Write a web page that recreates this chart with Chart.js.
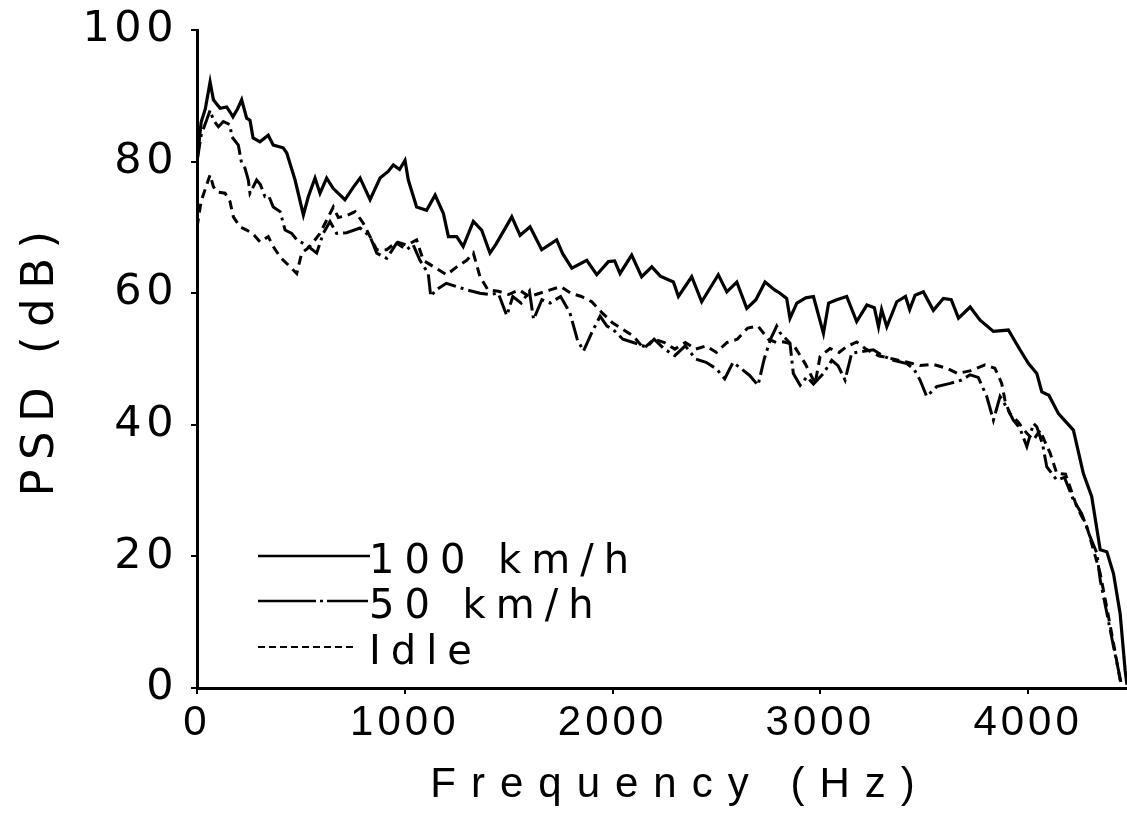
<!DOCTYPE html>
<html><head><meta charset="utf-8">
<script src="https://cdn.jsdelivr.net/npm/chart.js@4.4.1/dist/chart.umd.min.js"></script>
<style>html,body{margin:0;padding:0;background:#fff;}canvas{display:block;}</style>
</head><body>
<canvas id="c" width="1127" height="814"></canvas>
<script>
const seriesLabels = ['100 km/h', '50 km/h', 'Idle'];

const freq100 = [0,20,40,63,79,111,143,160,173,195,215,239,255,270,303,343,367,415,432,472,512,536,568,592,624,656,712,750,785,833,881,920,945,975,1001,1017,1057,1105,1146,1186,1210,1250,1281,1330,1370,1410,1440,1515,1555,1603,1659,1731,1760,1804,1876,1924,1980,2010,2036,2092,2140,2189,2230,2293,2317,2381,2429,2509,2550,2598,2646,2690,2734,2780,2806,2838,2854,2887,2930,2967,3015,3040,3079,3127,3175,3224,3260,3280,3295,3320,3368,3410,3430,3456,3496,3544,3592,3630,3665,3721,3769,3833,3905,3961,4002,4042,4066,4100,4146,4218,4266,4306,4347,4379,4411,4443,4467,4476];
const psd100 = [80,86,88,92.1,89.4,88.1,88.3,87.5,86.8,88,89.4,86.6,86.3,83.6,83.0,84.0,82.5,82.1,81.3,77.2,71.9,74.7,77.5,75.2,77.5,75.9,74.2,76,77.5,74.2,77.5,78.5,79.5,78.8,80.2,77.2,73.1,72.6,74.9,72.1,68.6,68.6,67.1,70.9,69.6,66.1,67.5,71.6,68.8,70.1,66.6,68.1,66,63.8,65.0,62.8,64.8,64.9,63.0,65.8,62.5,64.0,62.6,61.7,59.5,62.5,58.7,62.8,60.2,61.7,57.7,59.0,61.7,60.5,60.0,59.2,56.2,58.5,59.3,59.5,53.9,58.5,59.0,59.5,55.7,58.2,57.8,54.9,57.5,54.9,58.7,59.5,57.5,59.7,60.2,57.4,59.2,59,56.2,57.9,55.9,54.2,54.4,51.4,49.3,47.8,45.0,44.5,41.7,39.2,32.6,29.1,21.0,20.7,17.4,11.3,2.7,0.5];

const freq50 = [0,20,63,79,103,127,159,167,199,215,231,247,255,287,305,327,345,367,400,424,456,480,528,576,608,640,672,720,785,833,865,913,961,1009,1040,1073,1113,1125,1150,1200,1250,1300,1362,1410,1450,1491,1520,1560,1600,1620,1660,1700,1750,1795,1830,1860,1900,1940,1973,2005,2050,2100,2165,2200,2250,2300,2350,2400,2450,2500,2540,2580,2620,2660,2700,2730,2760,2790,2806,2854,2870,2903,2935,2967,3015,3055,3085,3119,3151,3191,3255,3300,3352,3416,3450,3480,3512,3560,3625,3680,3721,3760,3801,3833,3865,3900,3929,3960,3994,4026,4042,4070,4090,4138,4175,4218,4258,4298,4331,4347,4379,4411,4435,4451];
const psd50 = [80,84,87.8,86.3,85.3,86.1,85.6,83.8,82.5,79.7,79.0,77.2,75.2,77.2,76.5,74.7,74.8,73.1,72.4,69.6,69.1,68.1,67.3,66.1,69.1,70.9,69.1,69.2,69.9,68.6,66.1,65.3,67.6,66.6,67.4,65.0,63.0,59.5,60.5,61.5,61,60.5,60,59.8,60,56.6,59.5,58.5,60.3,56,59,58.5,59.5,57,53,51.2,54,56.5,55,54.4,53,52.5,51.8,53,51.5,50.5,52,50,49.5,48.5,47,49.5,48.5,47.5,46,50,53,55,54,52.4,47.8,46.0,47.3,46.2,47.8,49.8,49,46.8,50.9,51.1,51.4,50.5,49.8,49.3,48.5,46.8,44.3,45.8,46.3,46.8,47.6,47.2,44.3,40.7,44.3,42.5,40.7,39.5,36.7,40.2,39.7,37,33.6,31.6,32,28.6,26.5,23.0,20.5,16.4,11.4,6.3,2.7,0.2];

const freqIdle = [0,20,63,79,95,135,159,175,207,239,270,303,343,367,400,448,480,504,540,590,624,656,680,720,761,801,865,913,961,1009,1057,1089,1140,1202,1250,1298,1330,1362,1400,1450,1500,1550,1600,1650,1700,1750,1800,1850,1900,1950,2000,2050,2100,2150,2200,2250,2300,2350,2400,2450,2500,2550,2600,2650,2700,2750,2790,2822,2870,2927,2975,2999,3047,3090,3127,3175,3220,3280,3350,3420,3480,3540,3608,3660,3720,3793,3840,3873,3890,3913,3950,3994,4026,4058,4080,4106,4138,4180,4234,4283,4310,4347,4380,4411,4443,4460];
const psdIdle = [70,74,78.0,76.2,75.4,75.2,73.9,71.6,70.1,69.6,69,67.8,68.6,67.1,65.5,64.0,63.0,66.1,67,69,71.1,73.1,71.5,71.8,72.4,70.6,66.6,66.6,67.8,67.3,68.1,65.0,64,62.8,64.0,65.0,66.1,62.5,60.5,60.3,59.8,60.5,59.5,60,60.5,61,60,59.5,58.7,57,55.5,54.5,53.5,51.6,53,52.5,51.5,52.5,51.5,52,51,52.5,53,54.7,55.0,53,52.5,52.6,52.2,49.3,46.3,50.4,51.6,51,51.9,52.6,51.5,50.5,50,49.5,49,49.2,48.6,47.8,48.2,49.1,48.6,46.3,43.5,41.7,40.5,38.7,37.7,39.2,37.5,35.7,32.6,32.5,27.6,24.5,21.5,17.4,12,6.8,1.2,0.5];

const xTickValues = [0, 1000, 2000, 3000, 4000];
const yTickValues = [0, 20, 40, 60, 80, 100];
const xAxisTitle = 'Frequency (Hz)';
const yAxisTitle = 'PSD (dB)';

const toPoints = (fs, vs) => fs.map((f, i) => ({x: f, y: vs[i]}));
const FONT_Y = "'DejaVu Sans', sans-serif";
const FONT_X = "'Liberation Sans', Arial, sans-serif";

const LETTER_SPACING = {
  x: {ticks: 4, title: 15, titleShift: 18},
  y: {ticks: 4.5, title: 9.5, titleShift: 0}
};
const spacingPlugin = {
  id: 'letterSpacing',
  beforeDraw(chart) {
    Object.keys(LETTER_SPACING).forEach(id => {
      const s = chart.scales[id];
      if (!s || s.__ls) return;
      const ls = LETTER_SPACING[id];
      const dl = s.drawLabels, dt = s.drawTitle;
      s.drawLabels = function (...a) { const c = this.ctx; c.save(); c.letterSpacing = ls.ticks + 'px'; dl.apply(this, a); c.restore(); };
      s.drawTitle = function (...a) { const c = this.ctx; c.save(); c.letterSpacing = ls.title + 'px'; c.translate(ls.titleShift, 0); dt.apply(this, a); c.restore(); };
      s.__ls = true;
    });
  }
};

const legendStyle = [
  {x0: 61, x1: 173, dy: -132, dash: [], width: 2.5},
  {x0: 61, x1: 171, dy: -87, dash: [58, 4, 3, 4], width: 2.5},
  {x0: 61, x1: 160, dy: -41, dash: [7, 4], width: 2}
];
const insideLegend = {
  id: 'insideLegend',
  afterDatasetsDraw(chart) {
    const ctx = chart.ctx, a = chart.chartArea;
    ctx.save();
    chart.data.datasets.forEach((ds, i) => {
      const st = legendStyle[i];
      const y = a.bottom + st.dy;
      ctx.beginPath();
      ctx.setLineDash(st.dash);
      ctx.lineWidth = st.width;
      ctx.strokeStyle = ds.borderColor;
      ctx.moveTo(a.left + st.x0, y);
      ctx.lineTo(a.left + st.x1, y);
      ctx.stroke();
      ctx.setLineDash([]);
      ctx.fillStyle = '#000';
      ctx.font = '40px ' + FONT_Y;
      ctx.letterSpacing = '10px';
      ctx.textBaseline = 'alphabetic';
      ctx.textAlign = 'left';
      ctx.fillText(ds.label, a.left + 172, y + 17);
    });
    ctx.restore();
  }
};

new Chart(document.getElementById('c'), {
  type: 'line',
  data: {
    datasets: [
      {label: seriesLabels[0], data: toPoints(freq100, psd100), borderColor: '#000', borderWidth: 3.2, pointRadius: 0, tension: 0, fill: false},
      {label: seriesLabels[1], data: toPoints(freq50, psd50), borderColor: '#000', borderWidth: 3, borderDash: [20, 5, 3, 5], pointRadius: 0, tension: 0, fill: false},
      {label: seriesLabels[2], data: toPoints(freqIdle, psdIdle), borderColor: '#000', borderWidth: 3, borderDash: [9, 6], pointRadius: 0, tension: 0, fill: false}
    ]
  },
  options: {
    responsive: false,
    animation: false,
    devicePixelRatio: 1,
    layout: {padding: {top: 30, right: 0, bottom: 0, left: 0}},
    plugins: {legend: {display: false}, tooltip: {enabled: false}},
    scales: {
      x: {
        type: 'linear', min: 0, max: 4476,
        afterBuildTicks: s => { s.ticks = xTickValues.map(v => ({value: v})); },
        afterFit: s => { s.height = 126; s.paddingLeft = 0; s.paddingRight = 0; },
        border: {display: true, color: '#000', width: 3},
        grid: {display: true, drawOnChartArea: false, drawTicks: true, tickLength: 6, color: '#000', lineWidth: 2},
        ticks: {color: '#000', font: {family: FONT_X, size: 42}, padding: 4, maxRotation: 0, autoSkip: false, callback: v => String(v)},
        title: {display: true, text: xAxisTitle, color: '#000', font: {family: FONT_X, size: 42}, padding: {top: 0, bottom: 3}}
      },
      y: {
        type: 'linear', min: 0, max: 100,
        afterBuildTicks: s => { s.ticks = yTickValues.map(v => ({value: v})); },
        afterFit: s => { s.width = 197; s.paddingTop = 0; s.paddingBottom = 0; },
        border: {display: true, color: '#000', width: 3},
        grid: {display: true, drawOnChartArea: false, drawTicks: true, tickLength: 6, color: '#000', lineWidth: 2},
        ticks: {color: '#000', font: {family: FONT_Y, size: 43}, padding: 13, callback: v => String(v)},
        title: {display: true, text: yAxisTitle, color: '#000', font: {family: FONT_Y, size: 45}, padding: {top: 14, bottom: 0}}
      }
    }
  },
  plugins: [spacingPlugin, insideLegend]
});
</script>
</body></html>
